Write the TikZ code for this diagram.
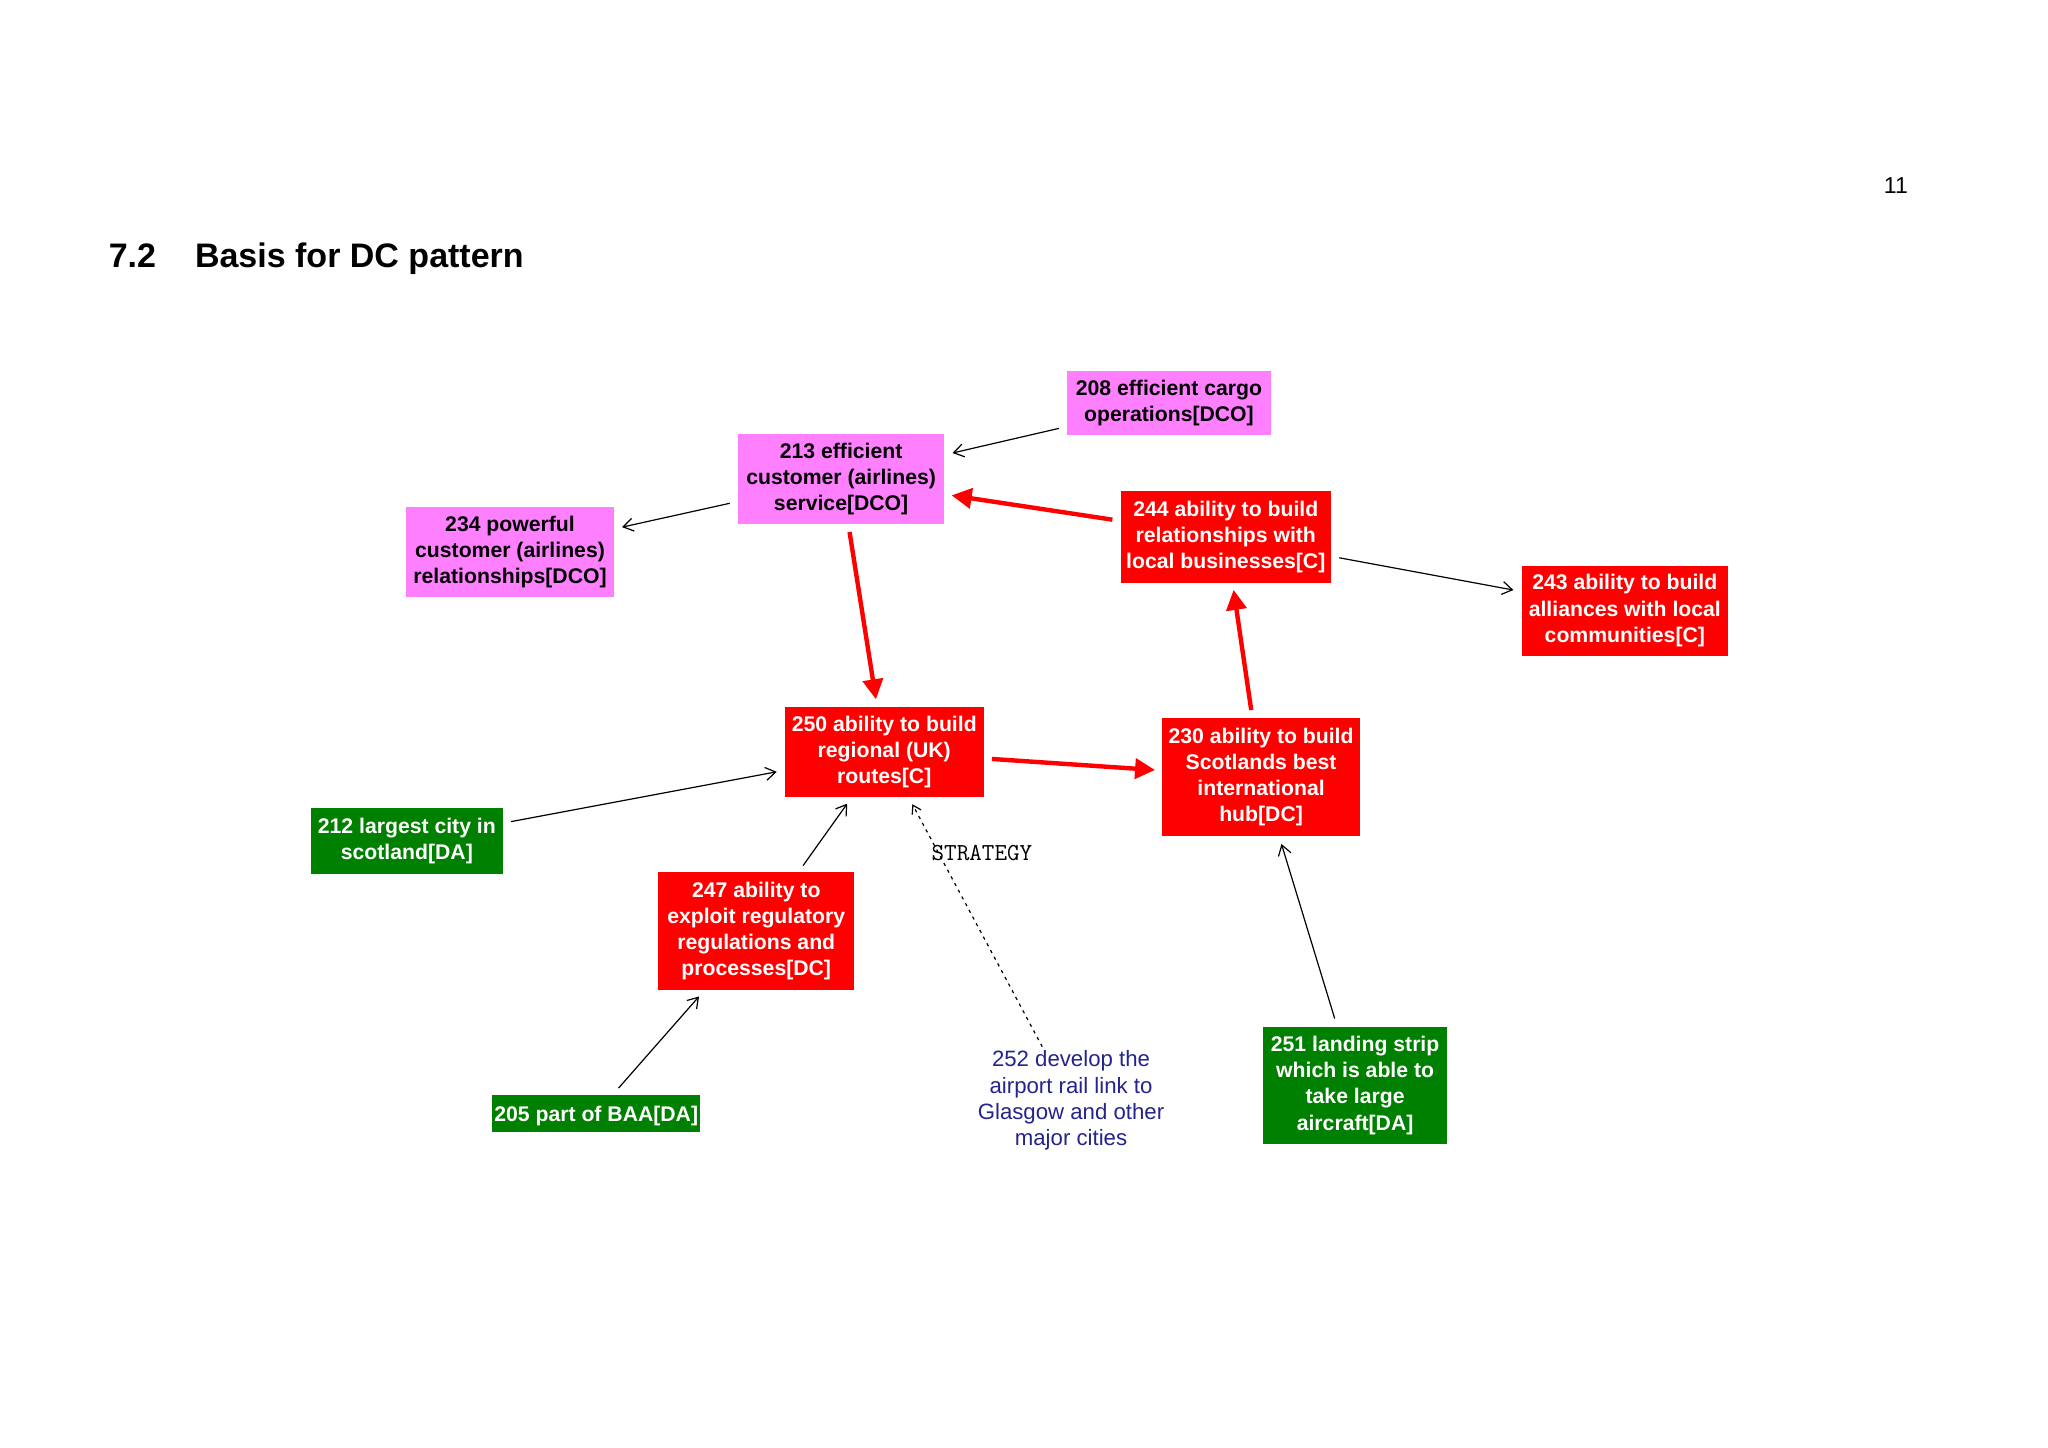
\documentclass[tikz,border=0pt]{standalone}
\usepackage{fontspec}
\setmainfont{Liberation Sans}
\usetikzlibrary{arrows.meta}
\definecolor{boxpink}{HTML}{FF80FF}
\definecolor{boxred}{HTML}{FF0000}
\definecolor{boxgreen}{HTML}{008000}
\definecolor{navytext}{HTML}{24248C}
\def\u{0.653pt}
\tikzset{
  box/.style={rectangle, inner sep=0pt, align=center,
    font=\fontsize{10.6}{13.06}\selectfont\bfseries,
    execute at begin node={\rule{0pt}{10.6pt}}},
  pinkbox/.style={box, fill=boxpink, text=black},
  redbox/.style={box, fill=boxred, text=white},
  greenbox/.style={box, fill=boxgreen, text=white},
  thinarr/.style={draw=black, line width=0.6pt,
    -{Straight Barb[length=5pt,width=6.5pt]}, shorten >=4pt, shorten <=4pt},
  redarr/.style={draw=boxred, line width=2.2pt,
    -{Triangle[length=10pt,width=10pt]}, shorten >=3.5pt, shorten <=4pt},
  dotarr/.style={draw=black, line width=0.6pt, dash pattern=on 1.6pt off 2.2pt,
    -{Straight Barb[length=4pt,width=5pt]}, shorten >=4pt, shorten <=1pt},
}
\begin{document}
\begin{tikzpicture}[x=0.653pt, y=-0.653pt]
\useasboundingbox[fill=white] (0,0) rectangle (1568,1108);

% heading and page number
\node[anchor=base west, inner sep=0pt, font=\fontsize{17}{20}\selectfont\bfseries] (num) at (83,205) {7.2};
\node[anchor=base west, inner sep=0pt, font=\fontsize{17}{20}\selectfont\bfseries] (title) at (149,205) {Basis for DC pattern};
\node[anchor=base east, inner sep=0pt, font=\fontsize{11.5}{14}\selectfont] (page) at (1461,148) {11};

% boxes
\node[pinkbox, minimum width=156*\u, minimum height=49*\u] (n208) at (895,308.5) {208 efficient cargo\\operations[DCO]};
\node[pinkbox, minimum width=158*\u, minimum height=69*\u] (n213) at (644,366.5) {213 efficient\\customer (airlines)\\service[DCO]};
\node[pinkbox, minimum width=159*\u, minimum height=69*\u] (n234) at (390.5,422.5) {234 powerful\\customer (airlines)\\relationships[DCO]};
\node[redbox, minimum width=161*\u, minimum height=70*\u] (n244) at (938.5,411) {244 ability to build\\relationships with\\local businesses[C]};
\node[redbox, minimum width=158*\u, minimum height=69*\u] (n243) at (1244,467.5) {243 ability to build\\alliances with local\\communities[C]};
\node[redbox, minimum width=152*\u, minimum height=69*\u] (n250) at (677,575.5) {250 ability to build\\regional (UK)\\routes[C]};
\node[redbox, minimum width=151*\u, minimum height=90*\u] (n230) at (965.5,595) {230 ability to build\\Scotlands best\\international\\hub[DC]};
\node[greenbox, minimum width=147*\u, minimum height=50*\u] (n212) at (311.5,644) {212 largest city in\\scotland[DA]};
\node[redbox, minimum width=150*\u, minimum height=90*\u] (n247) at (579,713) {247 ability to\\exploit regulatory\\regulations and\\processes[DC]};
\node[greenbox, minimum width=159*\u, minimum height=29*\u] (n205) at (456.5,852.5) {205 part of BAA[DA]};
\node[greenbox, minimum width=141*\u, minimum height=90*\u] (n251) at (1037.5,831) {251 landing strip\\which is able to\\take large\\aircraft[DA]};
\node[align=center, inner sep=1pt, text=navytext, font=\fontsize{11.1}{13.06}\selectfont] (n252) at (820,842.5) {252 develop the\\airport rail link to\\Glasgow and other\\major cities};

% connectors
\draw[thinarr] (n208) -- (n213);
\draw[thinarr] (n213) -- (n234);
\draw[thinarr] (n244) -- (n243);
\draw[thinarr] (n212) -- (n250);
\draw[thinarr] (n247) -- (n250);
\draw[thinarr] (n205) -- (n247);
\draw[thinarr] (n251) -- (n230);
\draw[redarr] (n244) -- (n213);
\draw[redarr] (n213) -- (n250);
\draw[redarr] (n230) -- (n244);
\draw[redarr] (n250) -- (n230);
\draw[dotarr] (n252) -- (n250);
\node[anchor=west, inner sep=0pt, font=\ttfamily\fontsize{12.2}{14}\selectfont] (strat) at (713,653) {STRATEGY};
\end{tikzpicture}
\end{document}
